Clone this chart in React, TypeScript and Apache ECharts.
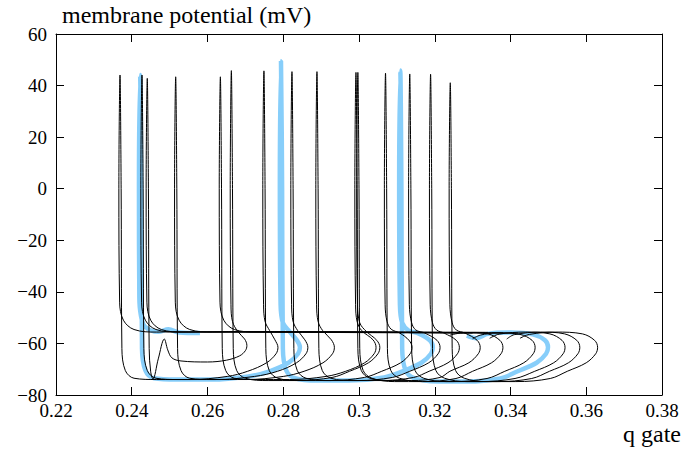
import React, { useEffect, useRef } from "react";
import * as echarts from "echarts";

// q gate (x) vs membrane potential in mV (y), key points
const blueTrace: number[][] = [
  [0.258, -56.0], [0.2525, -55.8], [0.2497, -54.5], [0.247, -55.5], [0.2435, -53.5], [0.2424, -49], [0.242, -42],
  [0.2419, 0], [0.2422, 44.1], [0.2425, 0], [0.2427, -62], [0.2436, -70.5], [0.2459, -73.5], [0.2519, -74.0],
  [0.261, -74.0], [0.2708, -72.8], [0.2764, -70.8], [0.2814, -67.5], [0.2839, -64], [0.2844, -61.5],
  [0.2836, -58.8], [0.2816, -55.3], [0.2799, -52], [0.2793, -45],
  [0.2791, 0], [0.2794, 49.5], [0.2797, 0], [0.2799, -62], [0.2808, -70.5], [0.2831, -73.5], [0.2891, -74.4],
  [0.2973, -74.4], [0.3066, -73.2], [0.3115, -70.8], [0.3165, -67.5], [0.319, -64], [0.3195, -61.5],
  [0.3187, -58.8], [0.3155, -56.0], [0.3131, -55.0], [0.3114, -52], [0.3108, -45],
  [0.3106, 0], [0.3109, 45.8], [0.3112, 0], [0.3114, -62], [0.3123, -70.5], [0.3146, -73.5], [0.3206, -74.8],
  [0.3283, -74.8], [0.3373, -73.6], [0.3419, -70.8], [0.3469, -67.5], [0.3494, -64], [0.3499, -61.5],
  [0.3491, -58.8], [0.3459, -56.5], [0.3399, -55.8], [0.334, -56.3], [0.331, -58.0], [0.3285, -57.0],
];

const traceA: number[][] = [
  [0.33, -56.0], [0.3, -55.8], [0.27, -55.6], [0.25, -55.5], [0.2466, -55.6], [0.2406, -54.6], [0.2378, -51], [0.2368, -44],
  [0.2366, 0], [0.2369, 44.1], [0.2372, 0], [0.2374, -62], [0.2383, -70.5], [0.2406, -73.5], [0.2466, -74.0],
  [0.2555, -74.0], [0.2652, -72.8], [0.2706, -70.8], [0.2756, -67.5], [0.2781, -64], [0.2786, -61.5],
  [0.2778, -58.6], [0.2764, -55.0], [0.2752, -51.5], [0.2748, -45],
  [0.2746, 0], [0.2749, 45.7], [0.2752, 0], [0.2754, -62], [0.2763, -70.5], [0.2786, -73.5], [0.2846, -74.4],
  [0.2923, -74.4], [0.3014, -73.2], [0.306, -70.8], [0.311, -67.5], [0.3135, -64], [0.314, -61.5],
  [0.3132, -58.8], [0.3108, -56.0], [0.3085, -54.5], [0.3074, -51.5], [0.3069, -45],
  [0.3067, 0], [0.307, 44.8], [0.3073, 0], [0.3075, -62], [0.3084, -70.5], [0.3107, -73.5], [0.3167, -74.8],
  [0.3246, -74.8], [0.3338, -73.6], [0.3385, -70.8], [0.3435, -67.5], [0.346, -64], [0.3465, -61.5],
  [0.3457, -58.8], [0.3425, -56.5], [0.3365, -55.9], [0.332, -56.8], [0.33, -58.2],
];

const traceB: number[][] = [
  [0.334, -55.7], [0.3, -55.5], [0.27, -55.4], [0.2524, -55.6], [0.2464, -54.6], [0.2436, -51], [0.2426, -44],
  [0.2424, 0], [0.2427, 44.1], [0.243, 0], [0.2432, -62], [0.2441, -70.5], [0.2464, -73.5], [0.2524, -74.0],
  [0.2622, -74.0], [0.2724, -72.8], [0.2785, -70.8], [0.2835, -67.5], [0.286, -64], [0.2865, -61.5],
  [0.2857, -58.6], [0.2838, -55.0], [0.2826, -51.5], [0.2822, -45],
  [0.282, 0], [0.2823, 45.4], [0.2826, 0], [0.2828, -62], [0.2837, -70.5], [0.286, -73.5], [0.292, -74.4],
  [0.2997, -74.4], [0.3088, -73.2], [0.3134, -70.8], [0.3184, -67.5], [0.3209, -64], [0.3214, -61.5],
  [0.3206, -58.8], [0.3174, -56.0], [0.315, -54.8], [0.3139, -52], [0.3133, -45],
  [0.3131, 0], [0.3134, 44.5], [0.3137, 0], [0.3139, -62], [0.3148, -70.5], [0.3171, -73.5], [0.3231, -74.8],
  [0.3317, -74.8], [0.3412, -73.6], [0.3464, -70.8], [0.3514, -67.5], [0.3539, -64], [0.3544, -61.5],
  [0.3536, -58.8], [0.3504, -56.3], [0.344, -55.6], [0.337, -56.4], [0.3345, -58.0],
];

const traceC: number[][] = [
  [0.338, -55.9], [0.31, -55.7], [0.28, -55.5], [0.2613, -55.6], [0.2553, -54.6], [0.2525, -51], [0.2515, -44],
  [0.2513, 0], [0.2516, 43.4], [0.2519, 0], [0.2521, -62], [0.253, -70.5], [0.2553, -73.5], [0.2613, -74.0],
  [0.2703, -74.0], [0.28, -72.8], [0.2855, -70.8], [0.2905, -67.5], [0.293, -64], [0.2935, -61.5],
  [0.2927, -58.6], [0.2904, -55.0], [0.2892, -51.5], [0.2888, -45],
  [0.2886, 0], [0.2889, 45.4], [0.2892, 0], [0.2894, -62], [0.2903, -70.5], [0.2926, -73.5], [0.2986, -74.4],
  [0.3057, -74.4], [0.3144, -73.2], [0.3185, -70.8], [0.3235, -67.5], [0.326, -64], [0.3265, -61.5],
  [0.3257, -58.8], [0.3225, -56.0], [0.3205, -54.8], [0.3194, -52], [0.3188, -45],
  [0.3186, 0], [0.3189, 44.4], [0.3192, 0], [0.3194, -62], [0.3203, -70.5], [0.3226, -73.5], [0.3286, -74.8],
  [0.3365, -74.8], [0.3456, -73.6], [0.3503, -70.8], [0.3553, -67.5], [0.3578, -64], [0.3583, -61.5],
  [0.3575, -58.8], [0.3543, -56.3], [0.348, -55.6], [0.341, -56.6], [0.339, -58.3],
];

const traceD: number[][] = [
  [0.342, -56.0], [0.315, -55.8], [0.29, -55.6], [0.2731, -55.6], [0.2671, -54.6], [0.2643, -51], [0.2633, -44],
  [0.2631, 0], [0.2634, 43.4], [0.2637, 0], [0.2639, -62], [0.2648, -70.5], [0.2671, -73.5], [0.2731, -74.0],
  [0.2817, -74.0], [0.2913, -72.8], [0.2965, -70.8], [0.3015, -67.5], [0.304, -64], [0.3045, -61.5],
  [0.3037, -58.6], [0.3007, -55.0], [0.2995, -51.5], [0.2991, -45],
  [0.2989, 0], [0.2992, 45.1], [0.2995, 0], [0.2997, -62], [0.3006, -70.5], [0.3029, -73.5], [0.3089, -74.4],
  [0.3138, -74.4], [0.3214, -73.2], [0.324, -70.8], [0.329, -67.5], [0.3315, -64], [0.332, -61.5],
  [0.3312, -58.8], [0.328, -56.0], [0.3257, -54.8], [0.3246, -52], [0.324, -45],
  [0.3238, 0], [0.3241, 41.1], [0.3244, 0], [0.3246, -62], [0.3255, -70.5], [0.3278, -73.5], [0.3338, -74.8],
  [0.3414, -74.8], [0.3505, -73.6], [0.355, -70.8], [0.36, -67.5], [0.3625, -64], [0.363, -61.5],
  [0.3622, -58.8], [0.359, -56.3], [0.352, -55.6], [0.345, -56.5], [0.3425, -58.0],
];

const traceE: number[][] = [
  [0.326, -55.8], [0.3, -55.6], [0.27, -55.5], [0.2538, -55.6], [0.2478, -54.6], [0.245, -51], [0.244, -44],
  [0.2438, 0], [0.2441, 42.8], [0.2444, 0], [0.2446, -62], [0.245, -71], [0.2456, -73.8], [0.247, -66],
  [0.2486, -58.3], [0.2495, -62.5], [0.2506, -65.6], [0.253, -66.8], [0.26, -67.2], [0.265, -66.5], [0.2685, -64.8],
  [0.27, -62.8], [0.2704, -60.8], [0.2698, -58.3], [0.268, -55.4], [0.2666, -51.5], [0.2662, -45],
  [0.266, 0], [0.2663, 45.8], [0.2666, 0], [0.2668, -62], [0.2677, -70.5], [0.27, -73.5], [0.276, -74.4],
  [0.2838, -74.4], [0.2929, -73.2], [0.2975, -70.8], [0.3025, -67.5], [0.305, -64], [0.3055, -61.5],
  [0.3047, -58.8], [0.3019, -55.3], [0.3002, -52], [0.2996, -45],
  [0.2994, 0], [0.2997, 45.1], [0.3, 0], [0.3002, -62], [0.3011, -70.5], [0.3034, -73.5], [0.3094, -74.8],
  [0.3168, -74.8], [0.3256, -73.6], [0.33, -70.8], [0.335, -67.5], [0.3375, -64], [0.338, -61.5],
  [0.3372, -58.8], [0.334, -56.3], [0.328, -55.8], [0.324, -56.8],
];

const blackTraces: number[][][] = [traceA, traceB, traceC, traceD, traceE];

const yAxisTitle = "membrane potential (mV)";
const xAxisTitle = "q gate";

const FONT = "Liberation Serif";

export default function App() {
  const ref = useRef<HTMLDivElement>(null);
  useEffect(() => {
    if (!ref.current) return;
    const chart = echarts.init(ref.current, undefined, { renderer: "svg" });
    const axisCommon = {
      axisLine: { show: true, onZero: false, lineStyle: { color: "#000", width: 1 } },
      axisTick: { show: true, inside: true, length: 8, lineStyle: { color: "#000" } },
      splitLine: { show: false },
    };
    const lineSeries = (data: number[][], color: string, width: number, z: number) => ({
      type: "line",
      data,
      showSymbol: false,
      symbol: "none",
      smooth: 0.35,
      lineStyle: { color, width },
      z,
      silent: true,
    });
    chart.setOption({
      animation: false,
      backgroundColor: "#fff",
      textStyle: { fontFamily: FONT },
      grid: { left: 56, top: 34, right: 24, bottom: 55, containLabel: false, outerBoundsMode: "none" },
      xAxis: [
        {
          type: "value", min: 0.22, max: 0.38, interval: 0.02, position: "bottom",
          ...axisCommon,
          axisLabel: { color: "#000", fontFamily: FONT, fontSize: 19, margin: 6 },
        },
        {
          type: "value", min: 0.22, max: 0.38, interval: 0.02, position: "top",
          ...axisCommon,
          axisLabel: { show: false },
        },
      ],
      yAxis: [
        {
          type: "value", min: -80, max: 60, interval: 20, position: "left",
          ...axisCommon,
          axisLabel: {
            color: "#000", fontFamily: FONT, fontSize: 19, margin: 9,
            formatter: (v: number) => String(v).replace("-", "\u2212"),
          },
        },
        {
          type: "value", min: -80, max: 60, interval: 20, position: "right",
          ...axisCommon,
          axisLabel: { show: false },
        },
      ],
      graphic: [
        {
          type: "text", left: 62, top: 3,
          style: { text: yAxisTitle, fontFamily: FONT, fontSize: 24, fill: "#000" },
        },
        {
          type: "text", right: 5, top: 422,
          style: { text: xAxisTitle, fontFamily: FONT, fontSize: 24, fill: "#000" },
        },
      ],
      series: [
        lineSeries(blueTrace, "#87CEFA", 4.5, 2),
        ...blackTraces.map((t) => lineSeries(t, "#000", 1, 3)),
      ],
    });
    return () => chart.dispose();
  }, []);
  return <div ref={ref} style={{ position: "fixed", left: 0, top: 0, width: 686, height: 450 }} />;
}
